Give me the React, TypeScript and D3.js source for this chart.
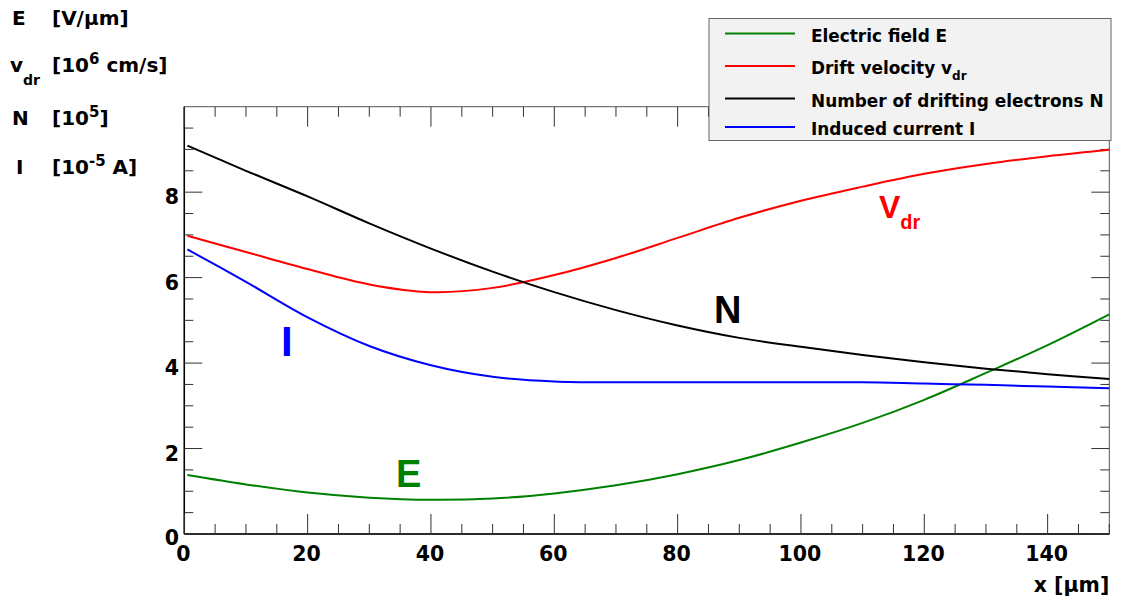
import * as d3 from 'd3';
import React from 'react';

// positions along the drift path (µm)
const xPos = [0.5, 10, 20, 30, 40, 50, 60, 70, 80, 90, 100, 110, 120, 130, 140, 150];
// E [V/µm]
const efield = [1.38, 1.16, 0.97, 0.85, 0.8, 0.83, 0.95, 1.14, 1.4, 1.73, 2.14, 2.6, 3.14, 3.77, 4.42, 5.14];
// v_dr [10^6 cm/s]
const vdrift = [6.98, 6.6, 6.2, 5.84, 5.66, 5.76, 6.06, 6.46, 6.93, 7.4, 7.8, 8.13, 8.43, 8.66, 8.84, 8.99];
// N [10^5]
const nElec = [9.09, 8.5, 7.9, 7.27, 6.68, 6.14, 5.66, 5.24, 4.88, 4.59, 4.38, 4.19, 4.02, 3.87, 3.74, 3.63];
// I [10^-5 A]
const current = [6.66, 5.9, 5.07, 4.4, 3.95, 3.68, 3.57, 3.55, 3.55, 3.55, 3.55, 3.55, 3.52, 3.49, 3.45, 3.41];

const xTicks = [0, 20, 40, 60, 80, 100, 120, 140];
const yTicks = [0, 2, 4, 6, 8];

const series = [
  { name: 'Electric field E', values: efield, color: '#008000' },
  { name: 'Drift velocity v', sub: 'dr', values: vdrift, color: '#ff0000' },
  { name: 'Number of drifting electrons N', values: nElec, color: '#000000' },
  { name: 'Induced current I', values: current, color: '#0000ff' },
];

const W = 1122;
const H = 605;
const margin = { top: 106.7, right: 12.7, bottom: 71, left: 184.3 };
const font = 'DejaVu Sans, sans-serif';
const font2 = 'Liberation Sans, Arial, sans-serif';

export default function App() {
  const x = d3.scaleLinear().domain([0, 150]).range([margin.left, W - margin.right]);
  const y = d3.scaleLinear().domain([0, 10]).range([H - margin.bottom, margin.top]);
  const x0 = x.range()[0], x1 = x.range()[1];
  const y0 = y.range()[0], y1 = y.range()[1];

  const line = d3.line<number>()
    .x((d, i) => x(xPos[i]))
    .y(d => y(d))
    .curve(d3.curveCatmullRom.alpha(0.5));

  const xMinor = d3.range(0, 150.01, 5).filter(v => v % 20 !== 0);
  const yMinor = d3.range(0, 10.01, 0.5).filter(v => v % 2 !== 0);

  const legX = 709, legY = 18.5, legW = 402, legH = 122;
  const rowY = [33.5, 66, 98.5, 127];

  return (
    <svg width={W} height={H} style={{ position: 'absolute', left: 0, top: 0, background: '#fff' }}>
      {/* left-hand quantity labels */}
      <g fontFamily={font} fontWeight="bold" fontSize={20} fill="#000">
        <text x={12} y={25}>E</text>
        <text x={52} y={25}>[V/μm]</text>
        <text x={10} y={72}>v<tspan fontSize={14} dy={13}>dr</tspan></text>
        <text x={52} y={72}>[10<tspan fontSize={15} dy={-8}>6</tspan><tspan dy={8}> cm/s]</tspan></text>
        <text x={12} y={125}>N</text>
        <text x={52} y={125}>[10<tspan fontSize={15} dy={-8}>5</tspan><tspan dy={8}>]</tspan></text>
        <text x={16} y={174}>I</text>
        <text x={52} y={174}>[10<tspan fontSize={15} dy={-8}>-5</tspan><tspan dy={8}> A]</tspan></text>
      </g>

      {/* frame */}
      <rect x={x0} y={y1} width={x1 - x0} height={y0 - y1} fill="none" stroke="#555" strokeWidth={1} />
      <line x1={x0} x2={x1} y1={y0} y2={y0} stroke="#000" strokeWidth={1.5} />
      <line x1={x0} x2={x0} y1={y0} y2={y1} stroke="#000" strokeWidth={1.5} />

      {/* ticks */}
      <g stroke="#333" strokeWidth={1}>
        {xTicks.map(v => (
          <g key={'xt' + v}>
            <line x1={x(v)} x2={x(v)} y1={y0} y2={y0 - 20} />
            <line x1={x(v)} x2={x(v)} y1={y1} y2={y1 + 20} />
          </g>
        ))}
        {xMinor.map(v => (
          <g key={'xm' + v}>
            <line x1={x(v)} x2={x(v)} y1={y0} y2={y0 - 10} />
            <line x1={x(v)} x2={x(v)} y1={y1} y2={y1 + 10} />
          </g>
        ))}
        {yTicks.map(v => (
          <g key={'yt' + v}>
            <line x1={x0} x2={x0 + 18} y1={y(v)} y2={y(v)} />
            <line x1={x1} x2={x1 - 18} y1={y(v)} y2={y(v)} />
          </g>
        ))}
        {yMinor.map(v => (
          <g key={'ym' + v}>
            <line x1={x0} x2={x0 + 9} y1={y(v)} y2={y(v)} />
            <line x1={x1} x2={x1 - 9} y1={y(v)} y2={y(v)} />
          </g>
        ))}
      </g>

      {/* tick labels */}
      <g fontFamily={font} fontWeight="bold" fontSize={20.5} fill="#000">
        {xTicks.map(v => (
          <text key={'xl' + v} x={x(v) - 1} y={560.5} textAnchor="middle">{v}</text>
        ))}
        {yTicks.map(v => (
          <text key={'yl' + v} x={179} y={v === 0 ? 545 : y(v) + 12} textAnchor="end">{v}</text>
        ))}
        <text x={x1} y={591.5} textAnchor="end">x [μm]</text>
      </g>

      {/* curves */}
      {series.map(s => (
        <path key={s.name} d={line(s.values) || ''} fill="none" stroke={s.color} strokeWidth={2} />
      ))}

      {/* curve annotations */}
      <g fontFamily={font2} fontWeight="bold">
        <text x={879} y={218} fill="#ff0000" fontSize={32}>V<tspan fontSize={20} dy={11}>dr</tspan></text>
        <text x={714} y={323} fill="#000" fontSize={38}>N</text>
        <text x={281} y={356} fill="#0000ff" fontSize={42}>I</text>
        <text x={396} y={487} fill="#008000" fontSize={38}>E</text>
      </g>

      {/* legend */}
      <rect x={legX} y={legY} width={legW} height={legH} fill="#f2f2f2" stroke="#666" strokeWidth={1} />
      <g fontFamily={font} fontWeight="bold" fontSize={16.9} fill="#000">
        {series.map((s, i) => (
          <g key={'lg' + i}>
            <line x1={725} x2={795} y1={rowY[i]} y2={rowY[i]} stroke={s.color} strokeWidth={2} />
            <text x={811} y={rowY[i] + 8}>
              {s.name}
              {s.sub ? <tspan fontSize={12} dy={6}>{s.sub}</tspan> : null}
            </text>
          </g>
        ))}
      </g>
    </svg>
  );
}
